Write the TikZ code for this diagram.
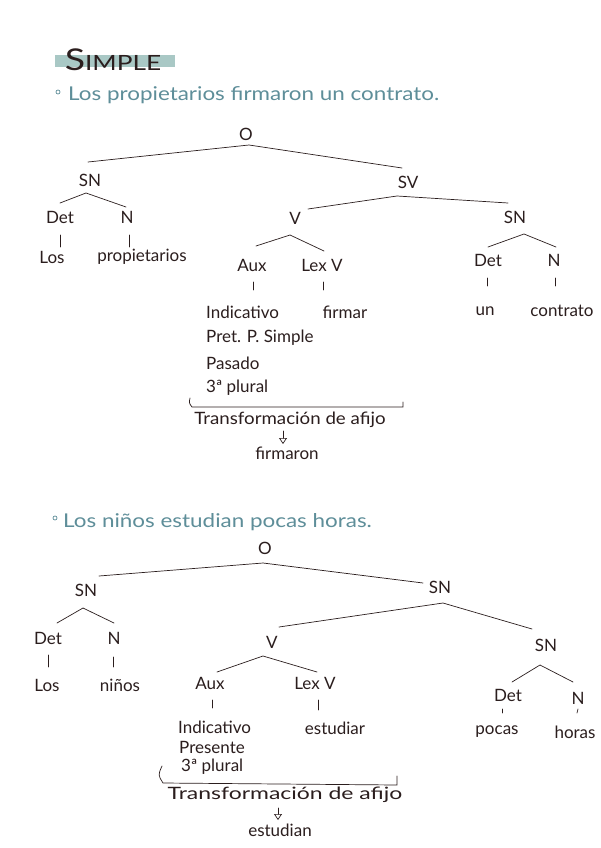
\documentclass[tikz,border=0pt]{standalone}
\usepackage{fontspec}
\setmainfont{Lato}
\usetikzlibrary{arrows.meta}
\definecolor{ink}{HTML}{2B1E1E}
\definecolor{tealtxt}{HTML}{5E8E99}
\definecolor{hl}{HTML}{A9C8C5}
\tikzset{
  lbl/.style={font=\fontsize{17}{19}\selectfont, text=ink, inner sep=1pt},
  lblw/.style={lbl, anchor=west},
  ln/.style={draw=ink, line width=0.7pt, line cap=round},
  sent/.style={font=\fontsize{19}{21}\selectfont, text=tealtxt, anchor=west, inner sep=0pt},
  bul/.style={draw=tealtxt, line width=0.7pt},
  arr/.style={ln, -{Triangle[open, length=6pt, width=8pt]}}
}
\begin{document}
\begin{tikzpicture}[x=1pt, y=-1pt]
\useasboundingbox[fill=white] (0,0) rectangle (600,848);

% ---------- title ----------
\fill[hl] (55,55) rectangle (175,67);
\node[inner sep=0pt, text=ink] (title) at (113,60)
  {\scalebox{1.25}[1]{\fontsize{30}{30}\selectfont S\fontsize{21}{21}\selectfont IMPLE}};

% ---------- sentence 1 ----------
\draw[bul] (58,92) circle (2);
\node[sent] (s1) at (68,95) {\scalebox{1.18}[1]{Los propietarios firmaron un contrato.}};

% ---------- tree 1 ----------
\node[lbl] (O1) at (246,134) {O};
\node[lbl] (SN1) at (90,180) {SN};
\node[lbl] (SV1) at (408,182) {SV};
\node[lbl] (Det1) at (60,217) {Det};
\node[lbl] (N1) at (127,217) {N};
\node[lbl] (Los1) at (52,257) {Los};
\node[lbl] (prop) at (142,257) {propietarios};
\node[lbl] (V1) at (295,218) {V};
\node[lbl] (SNR1) at (515,217) {SN};
\node[lbl] (Aux1) at (252,265) {Aux};
\node[lbl] (Lex1) at (322,265) {Lex V};
\node[lblw] (Ind1) at (205,312) {Indicativo};
\node[lbl] (firmar) at (345,312) {firmar};
\node[lblw] (pret) at (205,338) {Pret. P. Simple};
\node[lblw] (pas) at (205,363) {Pasado};
\node[lblw] (pl1) at (205,388) {3ª plural};
\node[lbl] (tr1) at (290,420) {\scalebox{1.1}[1]{Transformación de afijo}};
\node[lbl] (firmaron) at (287,453) {firmaron};
\node[lbl] (Det2) at (488,260) {Det};
\node[lbl] (N2) at (554,260) {N};
\node[lbl] (un) at (485,311) {un};
\node[lbl] (contrato) at (562,311) {contrato};

\draw[ln] ([shift={(-2,-18)}]SN1.center) -- ([shift={(3,11)}]O1.center) -- ([shift={(-6,-14)}]SV1.center);
\draw[ln] ([shift={(0,-14)}]Det1.center) -- ([shift={(-4,13)}]SN1.center) -- ([shift={(-1,-10)}]N1.center);
\draw[ln] ([shift={(0,18)}]Det1.center) -- ([shift={(8,-10)}]Los1.center);
\draw[ln] ([shift={(2,18)}]N1.center) -- ([shift={(-13,-10)}]prop.center);
\draw[ln] ([shift={(13,-9)}]V1.center) -- ([shift={(-11,14)}]SV1.center) -- ([shift={(-7,-14)}]SNR1.center);
\draw[ln] ([shift={(4,-19)}]Aux1.center) -- ([shift={(-5,17)}]V1.center) -- ([shift={(2,-14)}]Lex1.center);
\draw[ln] ([shift={(1,17)}]Aux1.center) -- ([shift={(48,-22)}]Ind1.west);
\draw[ln] ([shift={(1,17)}]Lex1.center) -- ([shift={(-22,-22)}]firmar.center);
\draw[ln] (190,398) .. controls (189,403) .. (192,407) -- (403,407) -- (403,402);
\draw[arr] ([shift={(-7,11)}]tr1.center) -- ([shift={(-4,-9)}]firmaron.center);
\draw[ln] ([shift={(0,-13)}]Det2.center) -- ([shift={(9,17)}]SNR1.center) -- ([shift={(2,-13)}]N2.center);
\draw[ln] ([shift={(-1,18)}]Det2.center) -- ([shift={(2,-25)}]un.center);
\draw[ln] ([shift={(1,18)}]N2.center) -- ([shift={(-7,-25)}]contrato.center);

% ---------- sentence 2 ----------
\draw[bul] (55,518) circle (2);
\node[sent] (s2) at (63,522) {\scalebox{1.18}[1]{Los niños estudian pocas horas.}};

% ---------- tree 2 ----------
\node[lbl] (O2) at (265,548) {O};
\node[lbl] (SNa) at (86,590) {SN};
\node[lbl] (SNb) at (440,587) {SN};
\node[lbl] (Det3) at (48,638) {Det};
\node[lbl] (N3) at (114,638) {N};
\node[lbl] (Los2) at (47,685) {Los};
\node[lbl] (ninos) at (120,685) {niños};
\node[lbl] (V2) at (272,642) {V};
\node[lbl] (SNc) at (546,645) {SN};
\node[lbl] (Aux2) at (210,683) {Aux};
\node[lbl] (Lex2) at (315,683) {Lex V};
\node[lblw] (Ind2) at (177,727) {Indicativo};
\node[lbl] (estudiar) at (335,728) {estudiar};
\node[lblw] (pres) at (178,747) {Presente};
\node[lblw] (pl2) at (180,767) {3ª plural};
\node[lbl] (tr2) at (285,795) {\scalebox{1.35}[1]{Transformación de afijo}};
\node[lbl] (estudian) at (280,830) {estudian};
\node[lbl] (Det4) at (508,695) {Det};
\node[lbl] (N4) at (578,698) {N};
\node[lbl] (pocas) at (497,732) {pocas};
\node[lbl] (horas) at (575,732) {horas};

\draw[ln] ([shift={(13,-14)}]SNa.center) -- ([shift={(-2,15)}]O2.center) -- ([shift={(-17,-4)}]SNb.center);
\draw[ln] ([shift={(9,-15)}]Det3.center) -- ([shift={(-3,18)}]SNa.center) -- ([shift={(0,-15)}]N3.center);
\draw[ln] ([shift={(0,17)}]Det3.center) -- ([shift={(1,-18)}]Los2.center);
\draw[ln] ([shift={(-1,19)}]N3.center) -- ([shift={(-7,-18)}]ninos.center);
\draw[ln] ([shift={(7,-15)}]V2.center) -- ([shift={(3,16)}]SNb.center) -- ([shift={(-14,-16)}]SNc.center);
\draw[ln] ([shift={(7,-11)}]Aux2.center) -- ([shift={(-9,14)}]V2.center) -- ([shift={(2,-11)}]Lex2.center);
\draw[ln] ([shift={(2,17)}]Aux2.center) -- ([shift={(35,-19)}]Ind2.west);
\draw[ln] ([shift={(3,17)}]Lex2.center) -- ([shift={(-17,-18)}]estudiar.center);
\draw[ln] (162,766) .. controls (158,775) .. (163,783) -- (397,785) -- (397,776);
\draw[arr] ([shift={(-7,13)}]tr2.center) -- ([shift={(-2,-10)}]estudian.center);
\draw[ln] ([shift={(4,-13)}]Det4.center) -- ([shift={(-6,20)}]SNc.center) -- ([shift={(-5,-16)}]N4.center);
\draw[ln] ([shift={(-6,14)}]Det4.center) -- ([shift={(5,-19)}]pocas.center);
\draw[ln] ([shift={(0,11)}]N4.center) -- ([shift={(2,-19)}]horas.center);
\end{tikzpicture}
\end{document}
